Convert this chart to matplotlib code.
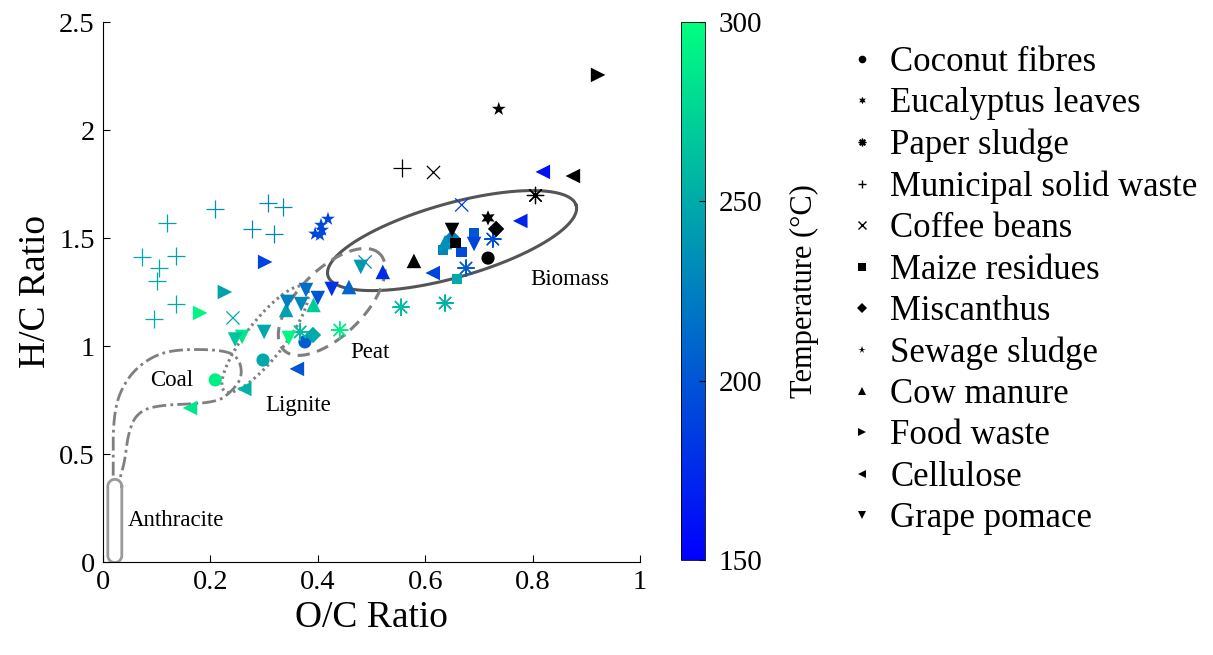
import numpy as np
import matplotlib
matplotlib.use("Agg")
import matplotlib.pyplot as plt
from matplotlib.lines import Line2D

plt.rcParams['font.family'] = ['Liberation Serif', 'DejaVu Serif']
plt.rcParams['mathtext.fontset'] = 'stix'

# ---------------- data (O/C, H/C, temperature) ----------------
coconut_x = [0.209, 0.298, 0.376]
coconut_y = [0.843, 0.935, 1.019]
coconut_t = [290, 250, 205]
coconut_raw = [0.717, 1.407]

eucalyptus_raw = [0.717, 1.593]

paper_x = [0.441, 0.555, 0.637, 0.676, 0.726, 0.367]
paper_y = [1.074, 1.180, 1.199, 1.361, 1.495, 1.065]
paper_t = [290, 262, 255, 205, 195, 262]
paper_raw = [0.804, 1.699]

msw_x = [0.209, 0.307, 0.335, 0.119, 0.277, 0.318, 0.073, 0.136, 0.104, 0.101, 0.136, 0.095]
msw_y = [1.634, 1.662, 1.644, 1.569, 1.542, 1.519, 1.412, 1.417, 1.361, 1.301, 1.194, 1.125]
msw_t = [235, 230, 230, 245, 232, 228, 250, 245, 250, 250, 248, 252]
msw_raw = [0.557, 1.824]

coffee_x = [0.242, 0.668, 0.488]
coffee_y = [1.130, 1.653, 1.389]
coffee_t = [250, 185, 230]
coffee_raw = [0.615, 1.806]

maize_x = [0.659, 0.633, 0.667, 0.691]
maize_y = [1.310, 1.444, 1.435, 1.523]
maize_t = [250, 228, 195, 200]
maize_raw = [0.656, 1.477]

misc_x = [0.391, 0.650]
misc_y = [1.051, 1.500]
misc_t = [250, 225]
misc_raw = [0.732, 1.542]

sewage_x = [0.419, 0.406, 0.408, 0.395, 0.404]
sewage_y = [1.588, 1.560, 1.537, 1.519, 1.514]
sewage_t = [190, 195, 192, 188, 195]
sewage_raw = [0.737, 2.097]

cow_x = [0.521, 0.458, 0.341, 0.392, 0.637]
cow_y = [1.343, 1.273, 1.167, 1.190, 1.481]
cow_t = [175, 210, 245, 270, 235]
cow_raw = [0.579, 1.394]

food_x = [0.302, 0.227, 0.181]
food_y = [1.389, 1.250, 1.153]
food_t = [190, 245, 295]
food_raw = [0.922, 2.255]

cell_x = [0.819, 0.777, 0.614, 0.361, 0.263, 0.162]
cell_y = [1.806, 1.579, 1.338, 0.894, 0.801, 0.713]
cell_t = [160, 170, 190, 200, 255, 285]
cell_raw = [0.875, 1.787]

grape_x = [0.259, 0.300, 0.346, 0.480, 0.378, 0.343, 0.400, 0.426, 0.369, 0.246, 0.691]
grape_y = [1.042, 1.065, 1.037, 1.366, 1.259, 1.204, 1.222, 1.264, 1.194, 1.030, 1.472]
grape_t = [285, 250, 295, 240, 215, 225, 200, 180, 230, 265, 190]
grape_raw = [0.650, 1.537]

names = ["Coconut fibres", "Eucalyptus leaves", "Paper sludge", "Municipal solid waste",
         "Coffee beans", "Maize residues", "Miscanthus", "Sewage sludge", "Cow manure",
         "Food waste", "Cellulose", "Grape pomace"]

# region outlines (data units)
coal_x = [0.019, 0.019, 0.045, 0.088, 0.138, 0.231, 0.255, 0.259, 0.242, 0.212, 0.101, 0.063, 0.047, 0.041, 0.032]
coal_y = [0.400, 0.704, 0.856, 0.949, 0.986, 0.981, 0.935, 0.856, 0.796, 0.736, 0.727, 0.690, 0.597, 0.472, 0.390]

# ---------------- figure ----------------
fig = plt.figure(figsize=(12.13, 6.55), dpi=100)
ax = fig.add_axes([103/1213, 93/655, 537/1213, 540/655])
cmap = plt.get_cmap('winter')
vmin, vmax = 150, 300
SX, SY = 537.0, 216.0  # px per data unit for outline shapes


def ellipse(cx, cy, a, b, theta):
    t = np.linspace(0, 2*np.pi, 200)
    th = np.deg2rad(theta)
    dx = a*np.cos(t)*np.cos(th) - b*np.sin(t)*np.sin(th)
    dy = a*np.cos(t)*np.sin(th) + b*np.sin(t)*np.cos(th)
    return cx + dx/SX, cy + dy/SY


def chaikin(x, y, n=4):
    p = np.column_stack([x, y])
    for _ in range(n):
        q = 0.75*p[:-1] + 0.25*p[1:]
        r = 0.25*p[:-1] + 0.75*p[1:]
        new = np.empty((2*len(q), 2))
        new[0::2] = q
        new[1::2] = r
        p = np.vstack([p[:1], new, p[-1:]])
    return p[:, 0], p[:, 1]


grey = '#7f7f7f'
# Biomass
ex, ey = ellipse(0.650, 1.488, 129, 37, 15.8)
ax.plot(ex, ey, color='#555555', lw=2.2, zorder=1)
# Peat
ex, ey = ellipse(0.426, 1.204, 68, 33, 45)
ax.plot(ex, ey, color=grey, lw=2.2, ls=(0, (4, 2.5)), zorder=1)
# Lignite
ex, ey = ellipse(0.302, 1.032, 66, 19, 52)
ax.plot(ex, ey, color=grey, lw=2.2, ls=(0, (0.8, 1.2)), zorder=1)
# Coal
cx_, cy_ = chaikin(coal_x, coal_y)
ax.plot(cx_, cy_, color=grey, lw=2.0, ls=(0, (5, 1.5, 1, 1.5)), zorder=1)
# Anthracite capsule
r = 7.0
th = np.linspace(0, np.pi, 40)
xc, y0, y1 = 0.022, 0.03, 0.35
top_x = xc + r*np.cos(th)/SX
top_y = y1 + r*np.sin(th)/SY
bot_x = xc - r*np.cos(th)/SX
bot_y = y0 - r*np.sin(th)/SY
cap_x = np.concatenate([top_x, bot_x, top_x[:1]])
cap_y = np.concatenate([top_y, bot_y, top_y[:1]])
ax.plot(cap_x, cap_y, color='#9a9a9a', lw=2.0, zorder=1)

lab_fs = 16.5
ax.text(0.127, 0.842, "Coal", fontsize=lab_fs, ha='center', va='center')
ax.text(0.364, 0.726, "Lignite", fontsize=lab_fs, ha='center', va='center')
ax.text(0.497, 0.972, "Peat", fontsize=lab_fs, ha='center', va='center')
ax.text(0.870, 1.306, "Biomass", fontsize=lab_fs, ha='center', va='center')
ax.text(0.136, 0.193, "Anthracite", fontsize=lab_fs, ha='center', va='center')

hexagram = (6, 1, 0)
asterisk = (8, 2, 0)
series = [
    (coconut_x, coconut_y, coconut_t, coconut_raw, 'o', 90, 'fill'),
    ([], [], [], eucalyptus_raw, hexagram, 120, 'fill'),
    (paper_x, paper_y, paper_t, paper_raw, asterisk, 140, 'line'),
    (msw_x, msw_y, msw_t, msw_raw, '+', 170, 'line'),
    (coffee_x, coffee_y, coffee_t, coffee_raw, 'x', 90, 'line'),
    (maize_x, maize_y, maize_t, maize_raw, 's', 60, 'fill'),
    (misc_x, misc_y, misc_t, misc_raw, 'D', 70, 'fill'),
    (sewage_x, sewage_y, sewage_t, sewage_raw, '*', 110, 'fill'),
    (cow_x, cow_y, cow_t, cow_raw, '^', 110, 'fill'),
    (food_x, food_y, food_t, food_raw, '>', 110, 'fill'),
    (cell_x, cell_y, cell_t, cell_raw, '<', 110, 'fill'),
    (grape_x, grape_y, grape_t, grape_raw, 'v', 110, 'fill'),
]
for xs, ys, ts, raw, m, s, kind in series:
    if len(xs):
        if kind == 'fill':
            ax.scatter(xs, ys, c=ts, cmap=cmap, vmin=vmin, vmax=vmax, marker=m, s=s,
                       edgecolors='none', zorder=3)
        else:
            ax.scatter(xs, ys, c=ts, cmap=cmap, vmin=vmin, vmax=vmax, marker=m, s=s,
                       linewidths=0.9, zorder=3)
    if kind == 'fill':
        ax.scatter([raw[0]], [raw[1]], color='black', marker=m, s=s, edgecolors='none', zorder=4)
    else:
        ax.scatter([raw[0]], [raw[1]], color='black', marker=m, s=s, linewidths=0.9, zorder=4)

ax.set_xlim(0, 1)
ax.set_ylim(0, 2.5)
ax.set_xticks([0, 0.2, 0.4, 0.6, 0.8, 1])
ax.set_xticklabels(['0', '0.2', '0.4', '0.6', '0.8', '1'])
ax.set_yticks([0, 0.5, 1, 1.5, 2, 2.5])
ax.set_yticklabels(['0', '0.5', '1', '1.5', '2', '2.5'])
ax.spines['top'].set_visible(False)
ax.spines['right'].set_visible(False)
ax.tick_params(direction='in', labelsize=20.5, length=5, width=0.8, pad=6)
ax.set_xlabel("O/C Ratio", fontsize=27)
ax.set_ylabel("H/C Ratio", fontsize=27)

# colorbar
cax = fig.add_axes([681/1213, 95/655, 24/1213, 538/655])
sm = matplotlib.cm.ScalarMappable(cmap=cmap, norm=matplotlib.colors.Normalize(vmin, vmax))
cb = fig.colorbar(sm, cax=cax)
cb.set_ticks([150, 200, 250, 300])
cb.ax.tick_params(labelsize=21, direction='in', length=4, pad=10)
cb.outline.set_linewidth(0.6)
cb.set_label("Temperature (°C)", fontsize=22, labelpad=20)

# legend
handles = []
for (xs, ys, ts, raw, m, s, kind), nm in zip(series, names):
    handles.append(Line2D([], [], ls='none', marker=m, color='black', markersize=5.5,
                          markeredgewidth=1.0 if kind == 'line' else 0, label=nm))
fig.legend(handles=handles, loc='upper left', bbox_to_anchor=(845/1213, 1 - 46/655),
           frameon=False, fontsize=25, handlelength=1.0, handletextpad=0.31,
           labelspacing=0.24, borderaxespad=0, borderpad=0)

fig.savefig("out.png", dpi=100)
